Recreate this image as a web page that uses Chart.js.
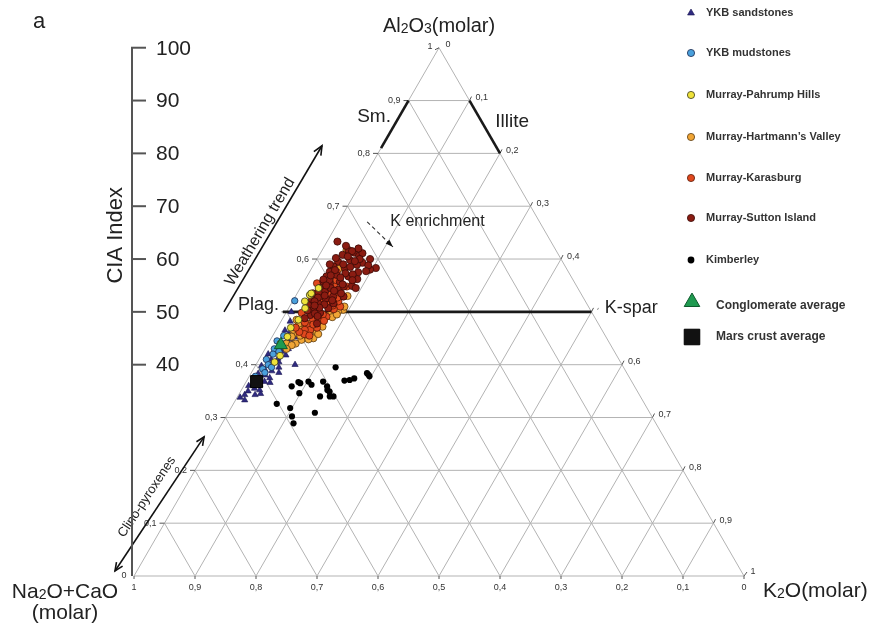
<!DOCTYPE html>
<html><head><meta charset="utf-8">
<script src="https://cdn.jsdelivr.net/npm/chart.js@4.4.0/dist/chart.umd.min.js"></script>
<style>html,body{margin:0;padding:0;background:#fff;}canvas{display:block;}</style>
</head><body>
<canvas id="c" width="873" height="629"></canvas>
<script>
// ---- data: [Al2O3 fraction, K2O fraction] (Na2O+CaO = 1 - both) ----
const ykbSandstones = [[0.482,0.015],[0.400,0.064],[0.343,0.010],[0.343,0.027],[0.333,0.015],[0.350,0.012],[0.355,0.020],[0.360,0.008],[0.362,0.025],[0.368,0.030],[0.372,0.015],[0.375,0.035],[0.380,0.025],[0.383,0.012],[0.388,0.032],[0.390,0.020],[0.395,0.040],[0.398,0.010],[0.402,0.025],[0.405,0.035],[0.410,0.020],[0.412,0.030],[0.418,0.040],[0.420,0.010],[0.425,0.030],[0.430,0.038],[0.435,0.020],[0.440,0.040],[0.448,0.030],[0.452,0.040],[0.458,0.025],[0.465,0.015],[0.470,0.035],[0.345,0.035],[0.338,0.005],[0.352,0.030],[0.366,0.040],[0.385,0.045],[0.500,0.008]];
const ykbMudstones = [[0.521,0.003],[0.445,0.012],[0.430,0.015],[0.420,0.018],[0.410,0.012],[0.400,0.020],[0.392,0.015],[0.385,0.022],[0.425,0.025],[0.440,0.028],[0.378,0.010],[0.395,0.028],[0.455,0.018]];
const pahrumpHills = [[0.532,0.022],[0.507,0.027],[0.485,0.027],[0.453,0.025],[0.417,0.031],[0.535,0.023],[0.545,0.030],[0.440,0.020],[0.470,0.022],[0.520,0.020],[0.405,0.028]];
const hartmannsValley = [[0.475,0.032],[0.466,0.042],[0.453,0.057],[0.450,0.069],[0.460,0.037],[0.447,0.051],[0.460,0.056],[0.466,0.028],[0.469,0.065],[0.504,0.091],[0.501,0.084],[0.494,0.074],[0.485,0.065],[0.617,0.040],[0.485,0.024],[0.516,0.047],[0.520,0.061],[0.453,0.032],[0.440,0.045],[0.478,0.050],[0.490,0.080],[0.510,0.090],[0.530,0.085],[0.455,0.045],[0.582,0.045],[0.440,0.030],[0.462,0.068],[0.448,0.062],[0.472,0.073],[0.437,0.040],[0.495,0.085],[0.473,0.045],[0.430,0.035],[0.458,0.073]];
const karasburg = [[0.548,0.055],[0.532,0.055],[0.523,0.049],[0.491,0.070],[0.485,0.051],[0.475,0.046],[0.498,0.026],[0.466,0.056],[0.529,0.040],[0.510,0.083],[0.548,0.075],[0.554,0.023],[0.466,0.047],[0.515,0.058],[0.505,0.035],[0.540,0.038],[0.480,0.040],[0.495,0.062],[0.520,0.075],[0.560,0.052],[0.458,0.050],[0.470,0.065],[0.505,0.075],[0.575,0.045],[0.488,0.058],[0.476,0.056],[0.462,0.040],[0.500,0.045],[0.512,0.070],[0.527,0.070],[0.538,0.063],[0.470,0.030],[0.455,0.060],[0.483,0.070]];
const suttonIsland = [[0.633,0.017],[0.617,0.043],[0.612,0.055],[0.606,0.066],[0.611,0.069],[0.600,0.087],[0.583,0.105],[0.580,0.097],[0.593,0.078],[0.589,0.071],[0.598,0.055],[0.608,0.038],[0.595,0.037],[0.583,0.054],[0.586,0.034],[0.576,0.033],[0.570,0.047],[0.567,0.032],[0.557,0.032],[0.554,0.044],[0.557,0.059],[0.567,0.068],[0.545,0.032],[0.535,0.026],[0.538,0.044],[0.529,0.062],[0.523,0.030],[0.516,0.044],[0.513,0.029],[0.504,0.045],[0.494,0.042],[0.498,0.056],[0.507,0.065],[0.516,0.069],[0.542,0.064],[0.529,0.079],[0.488,0.036],[0.478,0.061],[0.575,0.080],[0.562,0.085],[0.548,0.070],[0.590,0.048],[0.602,0.030],[0.573,0.060],[0.525,0.052],[0.560,0.040],[0.545,0.050],[0.535,0.072],[0.620,0.058],[0.600,0.070],[0.615,0.050],[0.605,0.048],[0.596,0.064],[0.588,0.090],[0.577,0.092],[0.571,0.073],[0.565,0.056],[0.552,0.066],[0.549,0.083],[0.540,0.058],[0.531,0.047],[0.522,0.064],[0.514,0.055],[0.508,0.050],[0.590,0.026],[0.579,0.040],[0.569,0.038],[0.561,0.030],[0.550,0.040],[0.537,0.034],[0.527,0.038],[0.520,0.036],[0.512,0.040],[0.503,0.033],[0.497,0.048],[0.492,0.055],[0.585,0.062],[0.560,0.078],[0.545,0.091],[0.625,0.035]];
const kimberley = [[0.395,0.133],[0.384,0.190],[0.378,0.197],[0.381,0.194],[0.371,0.168],[0.374,0.174],[0.370,0.160],[0.368,0.126],[0.368,0.102],[0.367,0.086],[0.362,0.110],[0.359,0.079],[0.359,0.137],[0.352,0.141],[0.349,0.146],[0.340,0.151],[0.340,0.157],[0.340,0.135],[0.346,0.098],[0.326,0.071],[0.318,0.097],[0.309,0.142],[0.302,0.108],[0.289,0.117],[0.365,0.090]];
const conglomerateAverage = [[0.4375,0.022]];
const marsCrustAverage = [[0.368,0.017]];

const gridSteps = [0.1,0.2,0.3,0.4,0.5,0.6,0.7,0.8,0.9];
const leftEdgeLabels = ['0,1','0,2','0,3','0,4','','0,6','0,7','0,8','0,9'];   // Al2O3 along left edge
const rightEdgeLabels = ['0,1','0,2','0,3','0,4','','0,6','0,7','0,8','0,9'];  // indexed by K2O along right edge
const bottomLabels = ['1','0,9','0,8','0,7','0,6','0,5','0,4','0,3','0,2','0,1','0']; // Na2O+CaO along base
const ciaTicks = [100,90,80,70,60,50,40];

const SERIES = [
  {label:'Mars crust average', data:marsCrustAverage, style:'rect', fill:'#111111', border:'#000000', r:8.5, bw:1, lr:11},
  {label:'Conglomerate average', data:conglomerateAverage, style:'triangle', fill:'#1f9a50', border:'#0e5a2c', r:7.5, bw:1, lr:9},
  {label:'Murray-Pahrump Hills', data:pahrumpHills, style:'circle', fill:'#efe23a', border:'#3a3a1a', r:3.4, bw:0.8, lr:3.6},
  {label:'Murray-Sutton Island', data:suttonIsland, style:'circle', fill:'#8a1c12', border:'#3a0a06', r:3.6, bw:0.8, lr:3.6},
  {label:'Murray-Karasburg', data:karasburg, style:'circle', fill:'#e0481e', border:'#5a1a08', r:3.6, bw:0.8, lr:3.6},
  {label:'Murray-Hartmann\u2019s Valley', data:hartmannsValley, style:'circle', fill:'#f0a535', border:'#5a3a10', r:3.6, bw:0.8, lr:3.6},
  {label:'YKB mudstones', data:ykbMudstones, style:'circle', fill:'#4aa0dc', border:'#1a2a50', r:3.2, bw:0.8, lr:3.6},
  {label:'YKB sandstones', data:ykbSandstones, style:'triangle', fill:'#2f2a80', border:'#1a1650', r:3.6, bw:0.6, lr:4},
  {label:'Kimberley', data:kimberley, style:'circle', fill:'#000000', border:'#000000', r:3.1, bw:0, lr:3.4}
];
const LEGEND_ORDER = ['YKB sandstones','YKB mudstones','Murray-Pahrump Hills','Murray-Hartmann\u2019s Valley','Murray-Karasburg','Murray-Sutton Island','Kimberley','Conglomerate average','Mars crust average'];

const SQ = Math.sqrt(3)/2;
const toXY = p => ({x: p[1] + p[0]/2, y: p[0]*SQ});

const datasets = SERIES.map(s => ({
  label: s.label,
  data: s.data.map(toXY),
  pointStyle: s.style,
  pointRadius: s.r,
  backgroundColor: s.fill,
  borderColor: s.border,
  borderWidth: s.bw,
  showLine: false
}));

const FONT = "'Liberation Sans', Arial, Helvetica, sans-serif";

function P(chart, al, k){
  return [chart.scales.x.getPixelForValue(k + al/2), chart.scales.y.getPixelForValue(al*SQ)];
}
function line(ctx, a, b){ ctx.beginPath(); ctx.moveTo(a[0],a[1]); ctx.lineTo(b[0],b[1]); ctx.stroke(); }
function text(ctx, s, x, y, size, opts){
  opts = opts || {};
  ctx.save();
  ctx.font = (opts.weight||'') + ' ' + size + 'px ' + FONT;
  ctx.fillStyle = opts.color || '#222';
  ctx.textAlign = opts.align || 'left';
  ctx.textBaseline = opts.baseline || 'middle';
  ctx.translate(x, y);
  if (opts.rot) ctx.rotate(opts.rot);
  ctx.fillText(s, 0, 0);
  ctx.restore();
}
function rich(ctx, parts, x, y, size, align){
  ctx.save();
  const sub = Math.round(size*0.68);
  let w = 0;
  parts.forEach(p => { ctx.font = (p[1]?sub:size) + 'px ' + FONT; w += ctx.measureText(p[0]).width; });
  let cx = align === 'center' ? x - w/2 : x;
  ctx.fillStyle = '#222'; ctx.textBaseline = 'alphabetic'; ctx.textAlign = 'left';
  parts.forEach(p => {
    ctx.font = (p[1]?sub:size) + 'px ' + FONT;
    ctx.fillText(p[0], cx, y + (p[1] ? 1 : 0));
    cx += ctx.measureText(p[0]).width;
  });
  ctx.restore();
}
function arrowHead(ctx, from, to, len){
  const ang = Math.atan2(to[1]-from[1], to[0]-from[0]);
  ctx.beginPath();
  ctx.moveTo(to[0] - len*Math.cos(ang - 0.42), to[1] - len*Math.sin(ang - 0.42));
  ctx.lineTo(to[0], to[1]);
  ctx.lineTo(to[0] - len*Math.cos(ang + 0.42), to[1] - len*Math.sin(ang + 0.42));
  ctx.stroke();
}

const ternaryPlugin = {
  id: 'ternary',
  beforeDatasetsDraw(chart){
    const ctx = chart.ctx;
    ctx.save();
    ctx.lineCap = 'butt';
    ctx.strokeStyle = '#b3b3b3'; ctx.lineWidth = 1;
    gridSteps.forEach(f => {
      line(ctx, P(chart,f,0), P(chart,f,1-f));
      line(ctx, P(chart,0,f), P(chart,1-f,f));
      line(ctx, P(chart,0,1-f), P(chart,1-f,0));
    });
    ctx.beginPath();
    const A = P(chart,1,0), L = P(chart,0,0), R = P(chart,0,1);
    ctx.moveTo(A[0],A[1]); ctx.lineTo(L[0],L[1]); ctx.lineTo(R[0],R[1]); ctx.closePath(); ctx.stroke();

    ctx.strokeStyle = '#555'; ctx.lineWidth = 1;
    gridSteps.forEach((f,i) => {
      const l = P(chart,f,0);
      line(ctx, [l[0]-5,l[1]], l);
      if (leftEdgeLabels[i]) text(ctx, leftEdgeLabels[i], l[0]-8, l[1], 9, {align:'right', color:'#333'});
      const r = P(chart,1-f,f);
      line(ctx, r, [r[0]+2, r[1]-4]);
      if (rightEdgeLabels[i]) text(ctx, rightEdgeLabels[i], r[0]+6, r[1]-3, 9, {color:'#333'});
    });
    bottomLabels.forEach((s,i) => {
      const b = P(chart,0,i/10);
      line(ctx, b, [b[0], b[1]+3]);
      text(ctx, s, b[0], b[1]+12, 9, {align:'center', color:'#333'});
    });
    text(ctx, '0', L[0]-10, L[1], 9, {align:'center', color:'#333'});
    text(ctx, '1', A[0]-9, A[1]-1, 9, {align:'center', color:'#333'});
    text(ctx, '0', A[0]+9, A[1]-3, 9, {align:'center', color:'#333'});
    text(ctx, '1', R[0]+9, R[1]-4, 9, {align:'center', color:'#333'});
    line(ctx, [A[0]-4,A[1]+2], A); line(ctx, R, [R[0]+3,R[1]-4]);

    ctx.strokeStyle = '#1a1a1a'; ctx.lineWidth = 2.6;
    line(ctx, P(chart,0.81,0), P(chart,0.9,0));
    line(ctx, P(chart,0.9,0.1), P(chart,0.8,0.2));
    line(ctx, P(chart,0.5,-0.006), P(chart,0.5,0.5));
    let q;
    q = P(chart,0.869,-0.041); text(ctx, 'Sm.', q[0], q[1], 19, {align:'center'});
    q = P(chart,0.860,0.19); text(ctx, 'Illite', q[0], q[1], 19, {align:'center'});
    q = P(chart,0.5133,-0.019); text(ctx, 'Plag.', q[0], q[1], 18, {align:'right'});
    q = P(chart,0.5076,0.518); text(ctx, 'K-spar', q[0], q[1], 18);
    ctx.strokeStyle = '#888'; ctx.lineWidth = 1;
    q = P(chart,0.5,0.5); line(ctx, [q[0]+6,q[1]-2], [q[0]+7,q[1]-4]);

    ctx.strokeStyle = '#111'; ctx.lineWidth = 1.6;
    let t = P(chart,0.5,-0.1025), h = P(chart,0.8144,-0.099);
    line(ctx, t, h); arrowHead(ctx, t, h, 10);
    let ang = Math.atan2(h[1]-t[1], h[0]-t[0]);
    q = P(chart,0.6515,-0.119); text(ctx, 'Weathering trend', q[0], q[1], 16, {align:'center', rot:ang});
    t = P(chart,0.0095,-0.0359); h = P(chart,0.2633,-0.0168);
    line(ctx, t, h); arrowHead(ctx, t, h, 9); arrowHead(ctx, h, t, 9);
    ang = Math.atan2(h[1]-t[1], h[0]-t[0]);
    q = P(chart,0.1496,-0.0535); text(ctx, 'Clino-pyroxenes', q[0], q[1], 13, {align:'center', rot:ang});
    ctx.lineWidth = 1.1; ctx.strokeStyle = '#333';
    t = P(chart,0.6705,0.047); h = P(chart,0.623,0.113);
    ctx.setLineDash([4,3]); line(ctx, t, h); ctx.setLineDash([]);
    ctx.fillStyle = '#111';
    const a2 = Math.atan2(h[1]-t[1], h[0]-t[0]);
    ctx.beginPath(); ctx.moveTo(h[0],h[1]);
    ctx.lineTo(h[0]-8*Math.cos(a2-0.35), h[1]-8*Math.sin(a2-0.35));
    ctx.lineTo(h[0]-8*Math.cos(a2+0.35), h[1]-8*Math.sin(a2+0.35)); ctx.closePath(); ctx.fill();
    q = P(chart,0.6705,0.085); text(ctx, 'K enrichment', q[0], q[1], 16);

    const ax = L[0] - 2;
    const top = P(chart,1,0)[1], bot = L[1];
    ctx.strokeStyle = '#555'; ctx.lineWidth = 2;
    line(ctx, [ax, top], [ax, bot]);
    ciaTicks.forEach(v => {
      const y = chart.scales.y.getPixelForValue(v/100*SQ);
      line(ctx, [ax-1, y], [ax+14, y]);
      text(ctx, String(v), ax+24, y+1, 21, {color:'#222'});
    });
    text(ctx, 'CIA Index', ax-16, chart.scales.y.getPixelForValue(0.645*SQ), 22, {align:'center', rot:-Math.PI/2});

    rich(ctx, [['Al',0],['2',1],['O',0],['3',1],['(molar)',0]], A[0], A[1]-16, 20, 'center');
    rich(ctx, [['Na',0],['2',1],['O+CaO',0]], L[0]-69, L[1]+22, 21, 'center');
    text(ctx, '(molar)', L[0]-69, L[1]+37, 21, {align:'center'});
    rich(ctx, [['K',0],['2',1],['O(molar)',0]], R[0]+19, R[1]+21, 21, 'left');
    text(ctx, 'a', 33, 22, 22);
    ctx.restore();
  },
  afterDraw(chart){
    const ctx = chart.ctx;
    const ys = [13,53,95,137,178,218,260,302,337];
    LEGEND_ORDER.forEach((name,i) => {
      const s = SERIES.find(d => d.label === name);
      const big = i >= 7;
      ctx.save();
      ctx.fillStyle = s.fill; ctx.strokeStyle = s.border; ctx.lineWidth = s.bw;
      Chart.helpers.drawPoint(ctx, {pointStyle:s.style, radius:s.lr, rotation:0, borderWidth:s.bw}, big ? 692 : 691, ys[i]);
      ctx.restore();
      text(ctx, name, big ? 716 : 706, big ? (i===7 ? 306 : 337) : ys[i], big ? 12 : 11, {weight:'bold', color:'#333'});
    });
  }
};

new Chart(document.getElementById('c'), {
  type: 'scatter',
  data: { datasets },
  options: {
    responsive: false, animation: false, devicePixelRatio: 1, events: [],
    layout: { padding: 0, autoPadding: false },
    plugins: { legend: { display: false }, tooltip: { enabled: false } },
    scales: {
      x: { type: 'linear', display: false, min: -134/610, max: 739/610 },
      y: { type: 'linear', display: false, min: -53/610, max: 576/610 }
    }
  },
  plugins: [ternaryPlugin]
});
</script>
</body></html>
